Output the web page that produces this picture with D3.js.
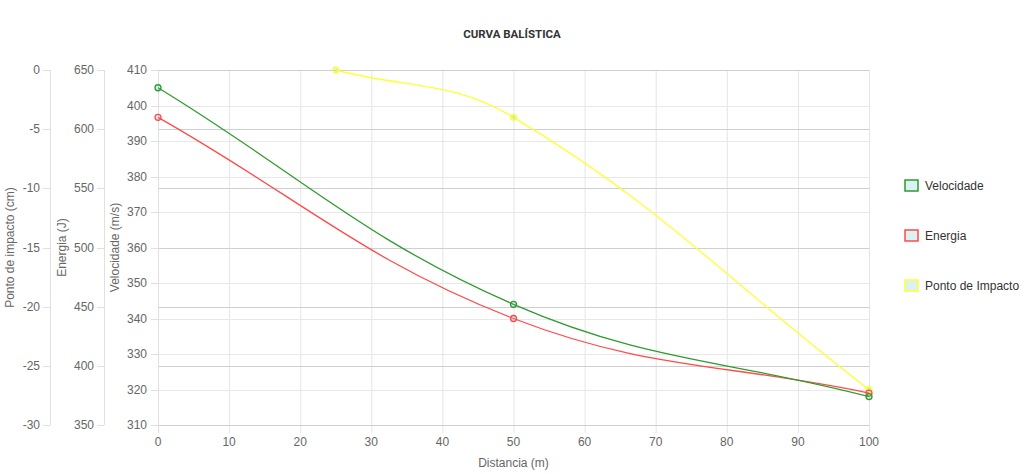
<!DOCTYPE html>
<html><head><meta charset="utf-8">
<script src="https://cdn.jsdelivr.net/npm/d3@7"></script>
<style>body{margin:0;background:#fff}svg{display:block}text{font-family:"Liberation Sans",Arial,sans-serif}</style>
</head><body><svg id="c" width="1024" height="474"></svg>
<script>
const distTicks = [0,10,20,30,40,50,60,70,80,90,100];
const distances = [0,50,100];
const velocidade = [405,344,318];
const energia = [610,440,377];
const pontoDist = [25,50,100];
const ponto = [0,-4,-27];
const velTicks = [310,320,330,340,350,360,370,380,390,400,410];
const energiaTicks = [350,400,450,500,550,600,650];
const pontoTicks = [-30,-25,-20,-15,-10,-5,0];
const seriesNames = ["Velocidade","Energia","Ponto de Impacto"];
const seriesColors = ["#2e9b2e","#ff4a4a","#ffff33"];

const svg = d3.select("#c");
const L=158,R=869,T=70,B=425;
const x = d3.scaleLinear().domain([0,100]).range([L,R]);
const yV = d3.scaleLinear().domain([310,410]).range([B,T]);
const yE = d3.scaleLinear().domain([350,650]).range([B,T]);
const yP = d3.scaleLinear().domain([-30,0]).range([B,T]);

svg.append("text").attr("x",512).attr("y",38).attr("text-anchor","middle")
  .style("font-family","Roboto").style("font-weight","bold").style("font-size","11.5px").attr("fill","#333").text("CURVA BALÍSTICA");

const g = svg.append("g");
g.selectAll(".vg").data(distTicks).join("line").attr("x1",d=>x(d)+0.5).attr("x2",d=>x(d)+0.5)
  .attr("y1",T).attr("y2",B+8).attr("stroke","#e5e5e5");
g.selectAll(".hv").data(velTicks).join("line").attr("x1",L-7).attr("x2",R).attr("y1",d=>Math.round(yV(d))+0.5).attr("y2",d=>Math.round(yV(d))+0.5).attr("stroke","#e8e8e8");
g.selectAll(".he").data(energiaTicks).join("line").attr("x1",L).attr("x2",R).attr("y1",d=>Math.round(yE(d))+0.5).attr("y2",d=>Math.round(yE(d))+0.5).attr("stroke","#cfcfcf");
g.append("line").attr("x1",L).attr("x2",R).attr("y1",B+0.5).attr("y2",B+0.5).attr("stroke","#cfcfcf");

function leftAxis(scale, ticks, xline, labelX, title, titleX){
  const a = svg.append("g");
  a.append("line").attr("x1",xline+0.5).attr("x2",xline+0.5).attr("y1",T).attr("y2",B+ (xline===L?8:0)).attr("stroke","#e0e0e0");
  a.selectAll("line.t").data(ticks).join("line").attr("class","t").attr("x1",xline-7).attr("x2",xline)
    .attr("y1",d=>Math.round(scale(d))+0.5).attr("y2",d=>Math.round(scale(d))+0.5).attr("stroke","#e0e0e0");
  a.selectAll("text").data(ticks).join("text").attr("x",labelX).attr("y",d=>scale(d)+4)
    .attr("text-anchor","end").attr("fill","#666").style("font-size","12px").text(d=>d);
  svg.append("text").attr("transform",`translate(${titleX},${(T+B)/2}) rotate(-90)`).attr("text-anchor","middle")
    .attr("fill","#666").style("font-size","12px").text(title);
}
leftAxis(yP, pontoTicks, 50, 40, "Ponto de impacto (cm)", 14);
leftAxis(yE, energiaTicks, 104, 94, "Energia (J)", 66);
leftAxis(yV, velTicks, L, 147, "Velocidade (m/s)", 119);

svg.selectAll(".xl").data(distTicks).join("text").attr("x",d=>x(d)).attr("y",446).attr("text-anchor","middle")
  .attr("fill","#666").style("font-size","12px").text(d=>d);
svg.append("text").attr("x",(L+R)/2).attr("y",467).attr("text-anchor","middle").attr("fill","#666").style("font-size","12px").text("Distancia (m)");

// Chart.js-style tension spline
function splinePath(pts, t){
  const n=pts.length, cps=[];
  for(let i=0;i<n;i++){
    const prev=pts[i-1]||pts[i], cur=pts[i], next=pts[i+1]||pts[i];
    const d01=Math.hypot(cur[0]-prev[0],cur[1]-prev[1]), d12=Math.hypot(next[0]-cur[0],next[1]-cur[1]);
    let s01=d01/(d01+d12), s12=d12/(d01+d12);
    if(!isFinite(s01)) s01=0; if(!isFinite(s12)) s12=0;
    const fa=t*s01, fb=t*s12;
    cps.push({p:[cur[0]-fa*(next[0]-prev[0]), cur[1]-fa*(next[1]-prev[1])],
              n:[cur[0]+fb*(next[0]-prev[0]), cur[1]+fb*(next[1]-prev[1])]});
  }
  let d=`M${pts[0][0]},${pts[0][1]}`;
  for(let i=1;i<n;i++){
    d+=`C${cps[i-1].n[0]},${cps[i-1].n[1]} ${cps[i].p[0]},${cps[i].p[1]} ${pts[i][0]},${pts[i][1]}`;
  }
  return d;
}

const data = [
  {xs:distances, ys:velocidade, sc:yV},
  {xs:distances, ys:energia, sc:yE},
  {xs:pontoDist, ys:ponto, sc:yP}
];
[2,1,0].forEach(i=>{
  const s=data[i];
  const pts = s.xs.map((d,j)=>[x(d), s.sc(s.ys[j])]);
  svg.append("path").attr("d",splinePath(pts,0.4)).attr("fill","none")
    .attr("stroke",seriesColors[i]).attr("stroke-width",1.3);
  svg.selectAll(null).data(pts).join("circle").attr("cx",p=>p[0]).attr("cy",p=>p[1]).attr("r",3)
    .attr("fill","rgba(75,192,192,0.2)").attr("stroke",seriesColors[i]).attr("stroke-width",1.3);
});

const ly=[186,236,286];
seriesNames.forEach((n,i)=>{
  svg.append("rect").attr("x",905).attr("y",ly[i]-6).attr("width",13).attr("height",11)
    .attr("fill","#dbf2f2").attr("stroke",seriesColors[i]).attr("stroke-width",1.5);
  svg.append("text").attr("x",925).attr("y",ly[i]+4).attr("fill","#333").style("font-size","12px").text(n);
});
</script></body></html>
